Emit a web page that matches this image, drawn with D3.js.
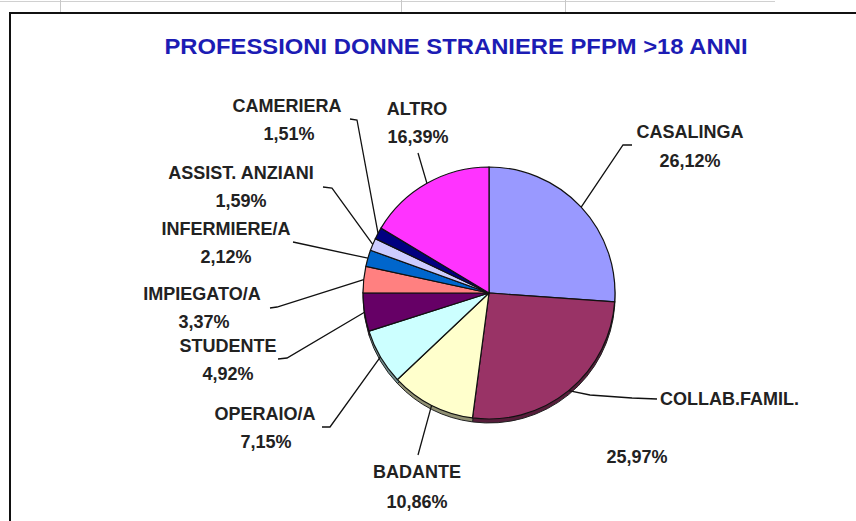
<!DOCTYPE html>
<html>
<head>
<meta charset="utf-8">
<script src="https://cdn.jsdelivr.net/npm/d3@7"></script>
<style>
  html, body { margin: 0; padding: 0; background: #fff; }
  svg { display: block; }
  .lbl { font-family: "Liberation Sans", Arial, sans-serif; font-weight: bold; font-size: 18px; fill: #222; }
</style>
</head>
<body>
<div id="container"></div>
<script>
//------------------------DATA------------------------//
const categories = ['CASALINGA', 'COLLAB.FAMIL.', 'BADANTE', 'OPERAIO/A', 'STUDENTE',
  'IMPIEGATO/A', 'INFERMIERE/A', 'ASSIST. ANZIANI', 'CAMERIERA', 'ALTRO'];
const values = [26.12, 25.97, 10.86, 7.15, 4.92, 3.37, 2.12, 1.59, 1.51, 16.39];
const colors = ['#9999ff', '#993366', '#ffffcc', '#ccffff', '#660066',
  '#ff8080', '#0066cc', '#ccccff', '#000080', '#ff33ff'];
const title = 'PROFESSIONI DONNE STRANIERE PFPM >18 ANNI';

// label placement (text positions and leader line knees), same order as categories
const labelLayout = [
  { x: 690, y1: 138, x2: 690, y2: 167, anchor: 'middle', knees: [[623, 145], [632, 145]] },
  { x: 660, y1: 405, x2: 637, y2: 463, anchor: 'start', knees: [[590, 395], [632, 398], [657, 399]] },
  { x: 417, y1: 478, x2: 417, y2: 508, anchor: 'middle', knees: [[418, 455]] },
  { x: 265, y1: 420, x2: 266, y2: 448, anchor: 'middle', knees: [[330, 427], [322, 427]] },
  { x: 228, y1: 352, x2: 228, y2: 380, anchor: 'middle', knees: [[287, 358], [278, 359]] },
  { x: 202, y1: 300, x2: 204, y2: 328, anchor: 'middle', knees: [[277, 307], [270, 308]] },
  { x: 226, y1: 235, x2: 226, y2: 263, anchor: 'middle', knees: [[293, 242]] },
  { x: 241, y1: 179, x2: 241, y2: 207, anchor: 'middle', knees: [[332, 188], [323, 187]] },
  { x: 287, y1: 112, x2: 289, y2: 140, anchor: 'middle', knees: [[357, 120], [350, 119]] },
  { x: 417, y1: 115, x2: 418, y2: 143, anchor: 'middle', knees: [[418, 153]] }
];

//------------------------SVG------------------------//
const width = 856;
const height = 521;
const cx = 489, cy = 293, r = 126, depth = 4;

const svg = d3.select('div#container').append('svg')
  .attr('width', width)
  .attr('height', height);

// spreadsheet grid peeking above the chart
svg.append('line').attr('x1', 0).attr('x2', 775).attr('y1', 1.5).attr('y2', 1.5)
  .attr('stroke', '#d0d0d0').attr('stroke-width', 1);
[60, 401, 565].forEach((gx) => {
  svg.append('line').attr('x1', gx + 0.5).attr('x2', gx + 0.5).attr('y1', 0).attr('y2', 12)
    .attr('stroke', '#c8c8c8').attr('stroke-width', 1);
});

// chart frame
svg.append('rect')
  .attr('x', 10).attr('y', 13)
  .attr('width', width + 20).attr('height', height + 20)
  .attr('fill', '#fff')
  .attr('stroke', '#111')
  .attr('stroke-width', 2);

// title
svg.append('text')
  .attr('x', 456).attr('y', 54)
  .attr('text-anchor', 'middle')
  .attr('textLength', 583)
  .attr('lengthAdjust', 'spacingAndGlyphs')
  .style('font-family', '"Liberation Sans Narrow", "Arial Narrow", "Liberation Sans", sans-serif')
  .style('font-weight', 'bold')
  .style('font-size', '22px')
  .style('fill', '#1c1cb4')
  .text(title);

//------------------------PIE------------------------//
const data = categories.map((c, i) => ({ name: c, value: values[i], color: colors[i] }));
const pie = d3.pie().sort(null).value((d) => d.value);
const arcs = pie(data);
const arc = d3.arc().innerRadius(0).outerRadius(r);
const edge = d3.arc().innerRadius(r).outerRadius(r);

// 3d depth under the pie
svg.append('g')
  .attr('transform', `translate(${cx},${cy + depth})`)
  .selectAll('path')
  .data(arcs)
  .enter()
  .append('path')
  .attr('d', arc)
  .attr('fill', (d) => d3.color(d.data.color).darker(1.6))
  .attr('stroke', '#222')
  .attr('stroke-width', 1);

svg.append('g')
  .attr('transform', `translate(${cx},${cy})`)
  .selectAll('path')
  .data(arcs)
  .enter()
  .append('path')
  .attr('d', arc)
  .attr('fill', (d) => d.data.color)
  .attr('stroke', '#111')
  .attr('stroke-width', 1.2);

//------------------------LABELS------------------------//
const fmt = (v) => d3.format('.2f')(v).replace('.', ',') + '%';

arcs.forEach((d, i) => {
  const L = labelLayout[i];
  const p = edge.centroid(d);
  const pts = [[cx + p[0], cy + p[1]]].concat(L.knees);
  svg.append('path')
    .attr('d', d3.line()(pts))
    .attr('fill', 'none')
    .attr('stroke', '#111')
    .attr('stroke-width', 1.3);

  svg.append('text')
    .attr('class', 'lbl')
    .attr('x', L.x).attr('y', L.y1)
    .attr('text-anchor', L.anchor)
    .text(d.data.name);
  svg.append('text')
    .attr('class', 'lbl')
    .attr('x', L.x2).attr('y', L.y2)
    .attr('text-anchor', 'middle')
    .text(fmt(d.data.value));
});
</script>
</body>
</html>
